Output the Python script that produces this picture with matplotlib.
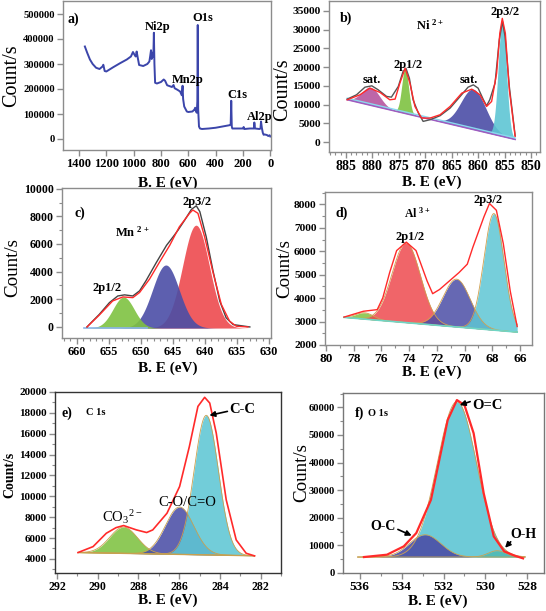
import numpy as np
import matplotlib
matplotlib.use("Agg")
import matplotlib.pyplot as plt
from matplotlib.ticker import MultipleLocator

plt.rcParams['font.family'] = ['Liberation Serif', 'DejaVu Serif']
plt.rcParams['mathtext.fontset'] = 'custom'
plt.rcParams['mathtext.rm'] = 'Liberation Serif'
plt.rcParams['mathtext.default'] = 'regular'

# ---------------- DATA ----------------
# a) survey spectrum
survey_be = [1357, 1340, 1320, 1300, 1275, 1250, 1228, 1222, 1212, 1200, 1150, 1100, 1050, 1020,
             1005, 995, 985, 978, 970, 960, 930, 900, 885, 878, 873, 868, 862, 856, 852, 848,
             843, 830, 800, 780, 770, 755, 720, 708, 700, 680, 660, 648, 642, 638, 630, 611,
             600, 570, 555, 550, 545, 538, 534, 531, 528, 522, 515, 500, 450, 400, 350, 300,
             290, 286, 282, 278, 250, 200, 195, 190, 150, 120, 117, 112, 80, 72, 68, 62, 55,
             49, 40, 25, 15, 5, 0]
survey_cts = [370000, 345000, 318000, 300000, 285000, 280000, 290000, 297000, 272000, 270000,
              287000, 303000, 318000, 330000, 348000, 338000, 330000, 350000, 325000, 296000,
              292000, 300000, 310000, 335000, 355000, 320000, 345000, 330000, 425000, 300000,
              225000, 222000, 228000, 238000, 233000, 215000, 208000, 216000, 203000, 197000,
              190000, 175000, 213000, 160000, 130000, 110000, 108000, 110000, 118000, 125000,
              112000, 105000, 150000, 456000, 120000, 50000, 42000, 40000, 42000, 45000, 50000,
              55000, 58000, 153000, 50000, 42000, 42000, 42000, 48000, 40000, 42000, 42000,
              66000, 42000, 40000, 42000, 70000, 45000, 25000, 17000, 18000, 16000, 12000,
              15000, 10000]

# b) Ni 2p
ni_raw_be = [884.75, 883.0, 881.4, 880.1, 878.9, 877.3, 876.4, 875.1, 874.2, 873.65, 873.0, 872.3,
             871.3, 870.4, 869.1, 867.2, 865.3, 863.4, 861.9, 860.9, 860.0, 859.0, 858.4, 857.8,
             856.8, 856.0, 855.4, 854.9, 854.1, 853.0]
ni_raw_cts = [11460, 12610, 14650, 15010, 13940, 12170, 11990, 14830, 18830, 19710, 17050, 11280,
              7730, 5510, 5950, 7020, 9060, 12170, 14650, 15270, 14390, 11280, 9680, 11280,
              15720, 27260, 32150, 28150, 14830, 1690]
ni_fit_be = [884.75, 882.35, 880.5, 878.55, 876.7, 875.7, 874.8, 873.8, 872.9, 871.95, 870.7,
             869.1, 867.2, 865.3, 863.1, 861.2, 859.65, 858.4, 857.45, 856.5, 855.9, 855.43,
             854.85, 854.1, 853.0]
ni_fit_cts = [11280, 12610, 14390, 13230, 11280, 11460, 15720, 19710, 15720, 9500, 6390, 6390,
              7280, 9500, 13050, 14120, 12610, 9500, 10830, 18380, 29040, 33030, 29040, 13940, 1510]
ni_bg_be = [884.75, 853.0]
ni_bg_cts = [11300, 700]
ni_centers = [880.3, 873.8, 860.9, 855.43]
ni_heights = [4800, 12050, 10780, 31080]
ni_fwhm = [4.0, 1.5, 5.5, 1.8]

# c) Mn 2p
mn_raw_be = [658.4, 657.8, 656.5, 654.9, 653.6, 652.55, 651.25, 650.2, 649.2, 647.6, 646.0, 645.0,
             644.2, 643.2, 642.1, 641.35, 640.8, 639.8, 638.75, 637.7, 636.7, 635.6, 633.0]
mn_raw_cts = [0, 290, 900, 1760, 2240, 2320, 2240, 2610, 3340, 4650, 5900, 6500, 7000, 7700, 8510,
              8760, 8340, 6510, 4070, 1880, 660, 170, 0]
mn_fit_be = [658.4, 656.5, 654.4, 652.8, 651.25, 650.2, 648.65, 647.1, 645.5, 644.0, 642.4, 641.9,
             641.1, 640.05, 638.75, 637.45, 636.15, 635.1, 633.3]
mn_fit_cts = [0, 850, 1880, 2170, 2120, 2490, 3460, 4680, 5900, 7240, 8220, 8460, 8220, 6510,
              3950, 1630, 410, 50, 0]
mn_bg_be = [658.8, 633.3]
mn_bg_cts = [-80, -80]
mn_centers = [652.7, 646.1, 641.4]
mn_heights = [2240, 4560, 7440]
mn_fwhm = [3.9, 4.9, 4.9]

# d) Al 2p
al_fit_be = [78.7, 77.3, 76.3, 75.9, 75.4, 74.9, 74.2, 73.5, 72.7, 72.3, 71.8, 71.1, 70.4, 69.8,
             69.4, 68.6, 68.2, 67.7, 67.2, 66.7, 66.2]
al_fit_cts = [3190, 3440, 3510, 4010, 5100, 6030, 6390, 6030, 4730, 4190, 4370, 4730, 5090, 5450,
              6170, 7470, 8040, 7750, 6320, 4300, 2790]
al_bg_be = [78.7, 66.2]
al_bg_cts = [3180, 2550]
al_centers = [77.2, 74.2, 70.57, 67.88]
al_heights = [270, 3400, 2040, 4975]
al_fwhm = [1.5, 2.4, 2.3, 1.7]

# e) C 1s
c_fit_be = [290.97, 290.23, 289.58, 289.1, 288.73, 288.1, 287.6, 287.3, 286.6, 285.98, 285.5,
            285.08, 284.75, 284.5, 284.18, 283.69, 283.2, 282.71, 282.3]
c_fit_cts = [4610, 5180, 6460, 7000, 7200, 6780, 6530, 6780, 8380, 10940, 14780, 18620, 19490,
             18940, 16060, 9660, 5820, 4540, 4290]
c_bg_be = [290.95, 282.3]
c_bg_cts = [4610, 4300]
c_centers = [288.73, 285.98, 284.67]
c_heights = [2520, 4540, 13380]
c_fwhm = [1.6, 1.64, 1.4]

# f) O 1s
o_fit_be = [535.8, 534.7, 533.9, 533.3, 532.6, 532.2, 531.8, 531.36, 531.0, 530.56, 530.08, 529.6,
            529.1, 528.6, 528.2]
o_fit_cts = [5780, 6630, 9640, 14460, 26500, 40960, 55420, 62650, 60840, 50600, 28900, 13250,
             7830, 6270, 5300]
o_bg_be = [536.1, 528.1]
o_bg_cts = [5780, 5780]
o_centers = [532.88, 531.36, 529.44]
o_heights = [8080, 56270, 2290]
o_fwhm = [1.76, 2.2, 1.0]

# ---------------- STYLE ----------------
MAG = '#b6559f'
GRN = '#7fc241'
BLU = '#4b4ea6'
CYN = '#5ec6d4'
RED = '#ee4a4f'
LRED = '#ff2a2a'
SPINE = '#8c8c8c'


def gauss(x, c, h, w):
    return h * np.exp(-4 * np.log(2) * (x - c) ** 2 / w ** 2)


def style(ax, xsize, ysize, xmaj, xmin, ymaj, ymin):
    for s in ax.spines.values():
        s.set_color(SPINE)
        s.set_linewidth(1.0)
    ax.tick_params(direction='out', length=4, width=1, color=SPINE,
                   top=False, right=False, pad=2)
    ax.tick_params(axis='x', labelsize=xsize)
    ax.tick_params(axis='y', labelsize=ysize)
    ax.tick_params(which='minor', direction='out', length=2, width=0.8, color=SPINE)
    ax.xaxis.set_major_locator(MultipleLocator(xmaj))
    ax.yaxis.set_major_locator(MultipleLocator(ymaj))
    if xmin:
        ax.xaxis.set_minor_locator(MultipleLocator(xmin))
    if ymin:
        ax.yaxis.set_minor_locator(MultipleLocator(ymin))
    for lab in ax.get_xticklabels() + ax.get_yticklabels():
        lab.set_fontweight('bold')


def labels(ax, ysize, yweight, ypos, xpos, xsize=11):
    ax.set_ylabel('Count/s', fontsize=ysize, fontweight=yweight)
    ax.yaxis.label.set_verticalalignment('center')
    ax.yaxis.set_label_coords(*ypos)
    ax.set_xlabel('B. E (eV)', fontsize=xsize, fontweight='bold')
    ax.xaxis.label.set_verticalalignment('center')
    ax.xaxis.set_label_coords(*xpos)


def components(ax, bg_be, bg_cts, centers, heights, fwhm, colors, order, edge=None, alpha=0.9):
    x = np.linspace(bg_be[0], bg_be[1], 400)
    if bg_be[0] > bg_be[1]:
        bg = np.interp(x, bg_be[::-1], bg_cts[::-1])
    else:
        bg = np.interp(x, bg_be, bg_cts)
    for i in order:
        y = bg + gauss(x, centers[i], heights[i], fwhm[i])
        ax.fill_between(x, bg, y, color=colors[i], alpha=alpha, lw=0)
        if edge:
            ax.plot(x, y, color=edge, lw=0.6)
    return x, bg


fig = plt.figure(figsize=(5.46, 6.11), dpi=100)
tk = dict(fontsize=9, fontweight='bold', ha='center', va='center')

# ---- a ----
axa = fig.add_axes([63/546, 1-150/611, 208/546, 149/611])
axa.plot(survey_be, survey_cts, color='#3b45aa', lw=1.4)
axa.set_xlim(1517, -5)
axa.set_ylim(-44000, 552000)
style(axa, 9, 7.6, 200, None, 100000, None)
labels(axa, 14.5, 'normal', (-0.245, 0.5), (0.505, -0.22))
axa.text(1444, 480000, 'a)', fontsize=10, fontweight='bold', ha='center', va='center')
axa.text(828, 448000, 'Ni2p', **tk)
axa.text(498, 484000, 'O1s', **tk)
axa.text(608, 236000, 'Mn2p', **tk)
axa.text(242, 176000, 'C1s', **tk)
axa.text(80, 88000, 'Al2p', **tk)

# ---- b ----
axb = fig.add_axes([329/546, 1-152/611, 211/546, 151/611])
components(axb, ni_bg_be, ni_bg_cts, ni_centers, ni_heights, ni_fwhm,
           [MAG, GRN, BLU, CYN], [0, 1, 2, 3])
axb.plot(ni_bg_be, ni_bg_cts, color='#9e5cc0', lw=1.2)
axb.plot(ni_bg_be, [c + 400 for c in ni_bg_cts], color='#8ad8ee', lw=1.0)
axb.plot(ni_raw_be, ni_raw_cts, color='#555555', lw=1.0)
axb.plot(ni_fit_be, ni_fit_cts, color=LRED, lw=1.0)
axb.set_xlim(888.2, 848.3)
axb.set_ylim(-2670, 37670)
style(axb, 10, 8.2, 5, 1, 5000, None)
labels(axb, 14.5, 'normal', (-0.218, 0.41), (0.488, -0.2))
axb.text(885, 33100, 'b)', fontsize=10, fontweight='bold', ha='center', va='center')
axb.text(869.1, 31260, r'Ni $^{2+}$', **tk)
axb.text(873.3, 20570, '2p1/2', **tk)
axb.text(855.0, 34700, '2p3/2', **tk)
axb.text(880.1, 16560, 'sat.', **tk)
axb.text(861.75, 16560, 'sat.', **tk)

# ---- c ----
axc = fig.add_axes([62/546, 1-338/611, 209/546, 150/611])
components(axc, mn_bg_be, mn_bg_cts, mn_centers, mn_heights, mn_fwhm,
           [GRN, BLU, RED], [2, 1, 0])
axc.plot([658.8, 649], [-80, -80], color='#8ab4e8', lw=1.2)
axc.plot(mn_raw_be, mn_raw_cts, color='#444444', lw=1.0)
axc.plot(mn_fit_be, mn_fit_cts, color=LRED, lw=1.0)
axc.set_xlim(662.3, 629.7)
axc.set_ylim(-800, 10050)
style(axc, 8.8, 8.6, 5, 1, 2000, 1000)
labels(axc, 13.7, 'normal', (-0.234, 0.467), (0.507, -0.2))
axc.text(659.5, 8240, 'c)', fontsize=10, fontweight='bold', ha='center', va='center')
axc.text(651.4, 6850, r'Mn $^{2+}$', **tk)
axc.text(641.25, 9050, '2p3/2', **tk)
axc.text(655.3, 2830, '2p1/2', **tk)

# ---- d ----
axd = fig.add_axes([325/546, 1-345/611, 207/546, 153/611])
components(axd, al_bg_be, al_bg_cts, al_centers, al_heights, al_fwhm,
           [GRN, RED, BLU, CYN], [0, 1, 2, 3], edge='#d0a050', alpha=0.85)
axd.plot(al_bg_be, al_bg_cts, color='#6fd6c6', lw=1.2)
axd.plot(al_fit_be, al_fit_cts, color=LRED, lw=1.0)
axd.set_xlim(80.07, 65.13)
axd.set_ylim(2000, 8530)
style(axd, 9.6, 8.2, 2, 1, 1000, 500)
labels(axd, 13.7, 'normal', (-0.193, 0.503), (0.517, -0.18))
axd.text(78.9, 7620, 'd)', fontsize=10, fontweight='bold', ha='center', va='center')
axd.text(73.4, 7620, r'Al $^{3+}$', fontsize=8.5, fontweight='bold', ha='center', va='center')
axd.text(73.95, 6590, '2p1/2', **tk)
axd.text(68.3, 8190, '2p3/2', **tk)

# ---- e ----
axe = fig.add_axes([55/546, 1-573/611, 226/546, 181/611])
components(axe, c_bg_be, c_bg_cts, c_centers, c_heights, c_fwhm,
           [GRN, BLU, CYN], [0, 1, 2], edge='#c8a050', alpha=0.88)
axe.plot(c_bg_be, c_bg_cts, color='#c8a050', lw=1.0)
axe.plot(c_fit_be, c_fit_cts, color=LRED, lw=1.2)
axe.set_xlim(292.1, 281.0)
axe.set_ylim(2650, 20000)
style(axe, 8.6, 8, 2, 1, 2000, 1000)
for s in ['left', 'bottom', 'right', 'top']:
    axe.spines[s].set_color('#333333')
labels(axe, 10, 'bold', (-0.199, 0.541), (0.5, -0.15))
axe.text(291.8, 18000, 'e)', fontsize=10, fontweight='bold', ha='left', va='center')
axe.text(290.6, 18000, 'C 1s', fontsize=7.5, fontweight='bold', ha='left', va='center')
axe.text(282.9, 18300, 'C-C', fontsize=10.5, fontweight='bold', ha='center', va='center')
axe.annotate('', xy=(284.65, 17700), xytext=(283.5, 18200),
             arrowprops=dict(arrowstyle='-|>', color='black', lw=1.2, mutation_scale=8))
axe.text(285.6, 9370, 'C-O/C=O', fontsize=10.5, ha='center', va='center')
axe.text(288.8, 8030, r'CO$_3$$^{2-}$', fontsize=10.5, ha='center', va='center')

# ---- f ----
axf = fig.add_axes([343/546, 1-573/611, 201/546, 180/611])
components(axf, o_bg_be, o_bg_cts, o_centers, o_heights, o_fwhm,
           [BLU, CYN, '#4fbab4'], [1, 0, 2], edge='#c8a050', alpha=0.9)
axf.plot(o_fit_be, o_fit_cts, color=LRED, lw=1.6)
axf.set_xlim(536.8, 527.2)
axf.set_ylim(0, 65200)
style(axf, 9.5, 7.6, 2, 1, 10000, 5000)
for s in ['left', 'bottom', 'right', 'top']:
    axf.spines[s].set_color('#777777')
labels(axf, 13.7, 'normal', (-0.204, 0.556), (0.473, -0.155))
axf.text(536.25, 57950, 'f)', fontsize=10, fontweight='bold', ha='left', va='center')
axf.text(535.6, 57950, 'O 1s', fontsize=7.5, fontweight='bold', ha='left', va='center')
axf.text(529.9, 60850, 'O=C', fontsize=10.5, fontweight='bold', ha='center', va='center')
axf.annotate('', xy=(531.35, 60500), xytext=(530.6, 62400),
             arrowprops=dict(arrowstyle='-|>', color='black', lw=1.2, mutation_scale=8))
axf.text(534.9, 16750, 'O-C', fontsize=10, fontweight='bold', ha='center', va='center')
axf.annotate('', xy=(533.4, 13130), xytext=(534.3, 16200),
             arrowprops=dict(arrowstyle='-|>', color='black', lw=1.2, mutation_scale=8))
axf.text(528.2, 13850, 'O-H', fontsize=10, fontweight='bold', ha='center', va='center')
axf.annotate('', xy=(529.15, 8420), xytext=(528.7, 12040),
             arrowprops=dict(arrowstyle='-|>', color='black', lw=1.2, mutation_scale=8))

fig.savefig('out.png', dpi=100)
